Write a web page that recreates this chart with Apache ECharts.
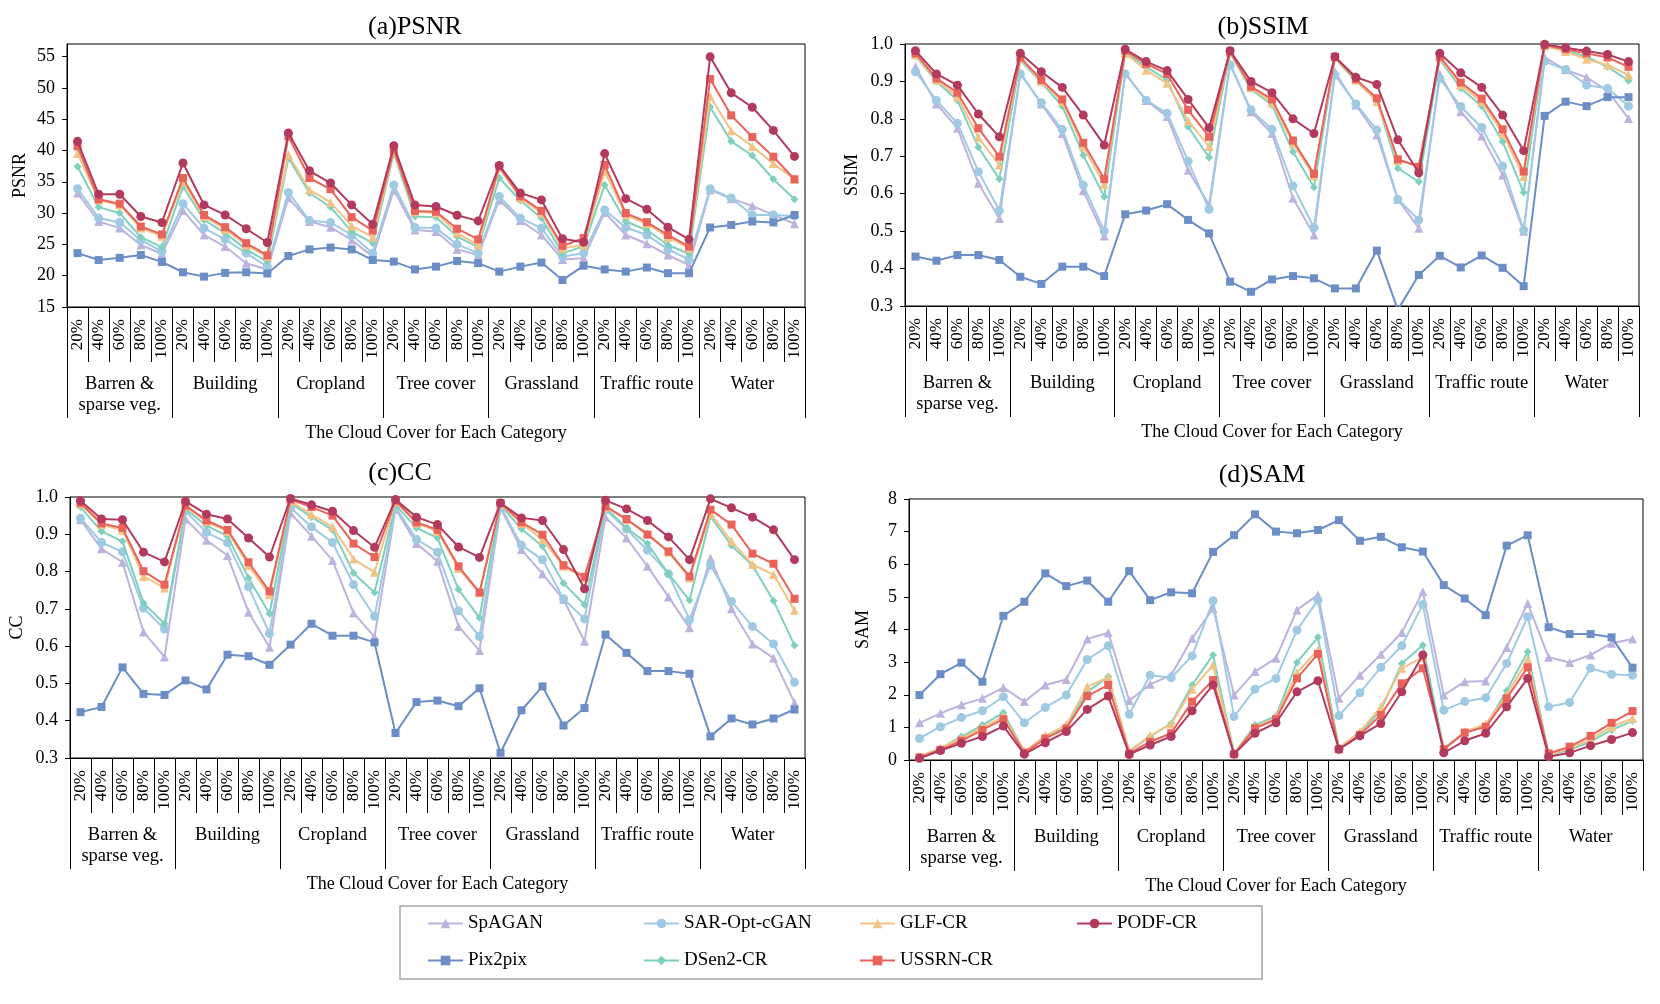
<!DOCTYPE html>
<html><head><meta charset="utf-8">
<script src="https://cdn.jsdelivr.net/npm/echarts@6/dist/echarts.min.js"></script>
<style>html,body{margin:0;padding:0;background:#fff}#c{width:1660px;height:1004px}</style>
</head><body><div id="c"></div>
<script>
// ---------- categories / tick labels ----------
const groupNames = ['Barren &\nsparse veg.', 'Building', 'Cropland', 'Tree cover', 'Grassland', 'Traffic route', 'Water'];
const coverLevels = ['20%', '40%', '60%', '80%', '100%'];
const methods = ['SpAGAN', 'SAR-Opt-cGAN', 'GLF-CR', 'PODF-CR', 'Pix2pix', 'DSen2-CR', 'USSRN-CR'];
const psnrTicks = [15, 20, 25, 30, 35, 40, 45, 50, 55];
const xAxisTitle = 'The Cloud Cover for Each Category';

// ---------- PSNR ----------
const psnrSpAGAN = [33.2,28.65,27.6,24.9,23.5, 30.4,26.5,24.65,22.0,21.0, 32.4,28.65,27.75,25.7,23.05, 33.7,27.3,27.05,24.2,23.3, 32.1,28.8,26.5,22.6,22.8, 30.1,26.5,25.1,23.3,21.7, 33.7,32.3,31.15,29.7,28.3];
const psnrSAR    = [33.9,29.2,28.5,25.7,23.9, 31.5,27.6,25.8,23.6,21.45, 33.3,28.8,28.5,26.5,23.6, 34.5,27.7,27.6,25.0,23.6, 32.65,29.2,27.6,23.05,23.6, 30.5,27.7,26.5,24.2,22.6, 33.9,32.4,29.7,29.7,29.55];
const psnrGLF    = [39.5,32.1,31.3,27.6,26.3, 35.05,29.45,27.4,24.9,23.05, 39.3,33.7,31.7,27.95,26.15, 39.85,30.2,30.0,26.8,24.9, 37.2,32.4,30.0,24.4,24.9, 36.65,29.7,28.3,26.15,24.4, 48.65,43.15,40.65,37.9,35.4];
const psnrPODF   = [41.45,33.0,33.0,29.45,28.5, 38.0,31.3,29.7,27.5,25.3, 42.8,36.75,34.8,31.3,28.2, 40.75,31.3,31.05,29.65,28.75, 37.6,33.2,32.1,25.9,25.35, 39.5,32.3,30.6,27.75,25.8, 54.95,49.2,46.9,43.2,39.05];
const psnrPix2pix= [23.6,22.5,22.85,23.3,22.2, 20.55,19.85,20.45,20.55,20.35, 23.15,24.2,24.5,24.2,22.5, 22.25,21.0,21.45,22.35,22.0, 20.65,21.45,22.1,19.3,21.6, 21.0,20.65,21.3,20.4,20.4, 27.7,28.1,28.65,28.5,29.7];
const psnrDSen2  = [37.45,30.95,30.0,26.15,24.55, 34.25,28.9,26.8,24.2,22.25, 38.8,33.2,30.95,27.05,25.2, 39.6,29.45,29.35,26.25,24.55, 35.6,32.0,29.2,23.6,24.65, 34.5,28.65,27.3,24.9,23.5, 46.95,41.45,39.2,35.4,32.2];
const psnrUSSRN  = [40.65,32.2,31.5,27.85,26.6, 35.6,29.7,27.75,25.2,23.25, 42.25,35.6,33.8,29.35,27.2, 40.1,30.35,30.2,27.5,25.8, 37.45,32.65,30.35,24.75,26.0, 37.7,30.0,28.55,26.5,24.65, 51.4,45.6,42.15,39.0,35.4];

// ---------- SSIM ----------
const ssimSpAGAN = [0.939,0.84,0.775,0.628,0.534, 0.923,0.84,0.761,0.608,0.487, 0.922,0.849,0.806,0.663,0.57, 0.948,0.819,0.761,0.588,0.49, 0.926,0.837,0.757,0.585,0.508, 0.92,0.819,0.754,0.65,0.5, 0.964,0.931,0.911,0.875,0.801];
const ssimSAR    = [0.926,0.849,0.788,0.659,0.555, 0.92,0.843,0.772,0.623,0.5, 0.92,0.85,0.815,0.687,0.558, 0.944,0.824,0.772,0.621,0.509, 0.917,0.84,0.77,0.585,0.53, 0.908,0.833,0.777,0.674,0.503, 0.953,0.932,0.89,0.882,0.834];
const ssimGLF    = [0.971,0.904,0.859,0.75,0.677, 0.962,0.9,0.846,0.726,0.625, 0.975,0.93,0.895,0.795,0.726, 0.977,0.884,0.843,0.735,0.647, 0.964,0.904,0.846,0.688,0.677, 0.964,0.89,0.846,0.761,0.646, 0.995,0.98,0.959,0.944,0.917];
const ssimPODF   = [0.982,0.92,0.89,0.813,0.752, 0.975,0.926,0.884,0.81,0.73, 0.986,0.953,0.929,0.852,0.776, 0.982,0.9,0.87,0.8,0.761, 0.966,0.911,0.892,0.744,0.656, 0.975,0.923,0.884,0.81,0.715, 0.999,0.99,0.981,0.972,0.953];
const ssimPix2pix= [0.432,0.421,0.436,0.436,0.423, 0.378,0.359,0.405,0.405,0.38, 0.545,0.555,0.572,0.53,0.494, 0.365,0.338,0.371,0.38,0.374, 0.347,0.347,0.448,0.29,0.383, 0.434,0.403,0.435,0.402,0.353, 0.808,0.846,0.834,0.858,0.858];
const ssimDSen2  = [0.968,0.9,0.85,0.724,0.639, 0.957,0.897,0.834,0.703,0.592, 0.977,0.939,0.904,0.779,0.697, 0.975,0.879,0.837,0.712,0.617, 0.962,0.901,0.85,0.668,0.632, 0.959,0.882,0.834,0.739,0.603, 0.993,0.984,0.966,0.939,0.902];
const ssimUSSRN  = [0.975,0.908,0.87,0.775,0.699, 0.964,0.904,0.852,0.736,0.639, 0.982,0.947,0.92,0.824,0.752, 0.98,0.886,0.852,0.742,0.653, 0.966,0.906,0.855,0.692,0.672, 0.966,0.897,0.854,0.772,0.659, 0.997,0.986,0.975,0.964,0.939];

// ---------- CC ----------
const ccSpAGAN = [0.939,0.861,0.825,0.638,0.571, 0.941,0.884,0.843,0.691,0.597, 0.957,0.895,0.83,0.689,0.625, 0.968,0.875,0.828,0.653,0.588, 0.971,0.859,0.794,0.725,0.613, 0.946,0.89,0.814,0.732,0.649, 0.836,0.7,0.606,0.568,0.448];
const ccSAR    = [0.943,0.878,0.853,0.702,0.646, 0.962,0.905,0.877,0.759,0.634, 0.971,0.92,0.878,0.765,0.68, 0.973,0.886,0.852,0.695,0.626, 0.973,0.871,0.832,0.727,0.673, 0.966,0.914,0.857,0.794,0.671, 0.817,0.72,0.653,0.606,0.503];
const ccGLF    = [0.982,0.926,0.911,0.787,0.756, 0.975,0.934,0.908,0.816,0.738, 0.988,0.953,0.92,0.834,0.798, 0.988,0.93,0.908,0.808,0.743, 0.982,0.929,0.886,0.814,0.783, 0.973,0.939,0.903,0.852,0.783, 0.955,0.881,0.819,0.792,0.696];
const ccPODF   = [0.99,0.941,0.939,0.852,0.826, 0.988,0.954,0.941,0.89,0.839, 0.996,0.979,0.962,0.91,0.865, 0.993,0.946,0.926,0.866,0.838, 0.984,0.944,0.937,0.859,0.754, 0.991,0.968,0.937,0.893,0.832, 0.995,0.971,0.946,0.912,0.832];
const ccPix2pix= [0.423,0.437,0.543,0.472,0.469, 0.508,0.484,0.577,0.573,0.55, 0.604,0.66,0.628,0.628,0.61, 0.367,0.45,0.454,0.439,0.487, 0.314,0.428,0.492,0.387,0.434, 0.631,0.582,0.533,0.533,0.526, 0.358,0.406,0.39,0.406,0.43];
const ccDSen2  = [0.973,0.908,0.881,0.716,0.66, 0.968,0.923,0.895,0.783,0.687, 0.984,0.946,0.912,0.796,0.744, 0.979,0.917,0.89,0.752,0.676, 0.979,0.914,0.868,0.769,0.711, 0.971,0.917,0.875,0.794,0.723, 0.948,0.87,0.816,0.722,0.602];
const ccUSSRN  = [0.984,0.929,0.917,0.801,0.765, 0.977,0.937,0.912,0.825,0.747, 0.993,0.973,0.95,0.875,0.839, 0.99,0.932,0.912,0.814,0.744, 0.984,0.932,0.899,0.817,0.786, 0.975,0.941,0.899,0.854,0.787, 0.966,0.926,0.848,0.821,0.727];

// ---------- SAM ----------
const samSpAGAN = [1.14,1.43,1.69,1.89,2.22, 1.79,2.3,2.47,3.71,3.9, 1.82,2.32,2.6,3.73,4.65, 1.99,2.71,3.12,4.6,5.06, 1.89,2.6,3.24,3.91,5.16, 1.99,2.4,2.42,3.45,4.8, 3.15,2.99,3.22,3.58,3.71];
const samSAR    = [0.66,1.02,1.3,1.51,1.94, 1.14,1.61,1.99,3.08,3.5, 1.4,2.6,2.52,3.19,4.88, 1.33,2.17,2.5,3.98,4.9, 1.36,2.06,2.84,3.5,4.77, 1.53,1.79,1.91,2.96,4.39, 1.63,1.76,2.81,2.63,2.6];
const samGLF    = [0.1,0.36,0.66,1.0,1.33, 0.26,0.74,1.07,2.25,2.53, 0.28,0.74,1.1,2.17,2.91, 0.2,1.0,1.3,2.68,3.37, 0.36,0.87,1.63,2.81,3.15, 0.33,0.87,1.1,1.99,3.08, 0.17,0.36,0.63,1.02,1.28];
const samPODF   = [0.05,0.29,0.51,0.72,1.04, 0.18,0.53,0.87,1.55,1.96, 0.17,0.46,0.72,1.51,2.3, 0.18,0.82,1.14,2.09,2.43, 0.33,0.74,1.12,2.09,3.22, 0.22,0.59,0.82,1.63,2.5, 0.1,0.22,0.44,0.63,0.84];
const samPix2pix= [1.99,2.63,2.98,2.4,4.42, 4.85,5.72,5.33,5.5,4.85, 5.79,4.9,5.14,5.11,6.38, 6.89,7.53,7.0,6.95,7.05, 7.35,6.72,6.84,6.52,6.39, 5.36,4.95,4.44,6.57,6.89, 4.07,3.86,3.86,3.76,2.83];
const samDSen2  = [0.1,0.36,0.72,1.07,1.45, 0.26,0.72,1.02,2.09,2.55, 0.26,0.72,1.12,2.3,3.22, 0.2,1.07,1.35,2.99,3.76, 0.38,0.82,1.53,2.96,3.52, 0.36,0.84,1.04,2.12,3.32, 0.15,0.31,0.56,0.92,1.2];
const samUSSRN  = [0.08,0.31,0.59,0.92,1.25, 0.22,0.66,0.97,1.96,2.3, 0.2,0.56,0.82,1.79,2.45, 0.18,0.97,1.25,2.5,3.25, 0.33,0.77,1.38,2.35,2.81, 0.33,0.84,1.02,1.89,2.84, 0.2,0.41,0.74,1.14,1.5];

// ---------- build ----------
const FONT = "'Liberation Serif','Times New Roman',serif";
const xLabels = [];
groupNames.forEach(() => coverLevels.forEach(c => xLabels.push(c)));

const styles = {
  'SpAGAN':       {color:'#bcb3de', symbol:'triangle', size:9},
  'SAR-Opt-cGAN': {color:'#9ecae3', symbol:'circle',   size:9},
  'GLF-CR':       {color:'#f1c385', symbol:'triangle', size:9},
  'PODF-CR':      {color:'#b23a5d', symbol:'circle',   size:9},
  'Pix2pix':      {color:'#6b8ec7', symbol:'rect',     size:8},
  'DSen2-CR':     {color:'#7fd0bf', symbol:'diamond',  size:8},
  'USSRN-CR':     {color:'#e9635b', symbol:'rect',     size:8}
};
const drawOrder = ['SpAGAN','SAR-Opt-cGAN','Pix2pix','DSen2-CR','GLF-CR','USSRN-CR','PODF-CR'];

const panels = [
  {title:'(a)PSNR', tx:415, ty:27, yName:'PSNR', nameGap:38, min:15, max:57, interval:5, dec:0, custom:psnrTicks,
   rect:{left:67, top:44, width:738, height:263},
   data:{'SpAGAN':psnrSpAGAN,'SAR-Opt-cGAN':psnrSAR,'GLF-CR':psnrGLF,'PODF-CR':psnrPODF,'Pix2pix':psnrPix2pix,'DSen2-CR':psnrDSen2,'USSRN-CR':psnrUSSRN}},
  {title:'(b)SSIM', tx:1263, ty:27, yName:'SSIM', nameGap:44, min:0.3, max:1.0, interval:0.1, dec:1,
   rect:{left:905, top:44, width:734, height:262},
   data:{'SpAGAN':ssimSpAGAN,'SAR-Opt-cGAN':ssimSAR,'GLF-CR':ssimGLF,'PODF-CR':ssimPODF,'Pix2pix':ssimPix2pix,'DSen2-CR':ssimDSen2,'USSRN-CR':ssimUSSRN}},
  {title:'(c)CC', tx:400, ty:473, yName:'CC', nameGap:44, min:0.3, max:1.0, interval:0.1, dec:1,
   rect:{left:70, top:497, width:735, height:261},
   data:{'SpAGAN':ccSpAGAN,'SAR-Opt-cGAN':ccSAR,'GLF-CR':ccGLF,'PODF-CR':ccPODF,'Pix2pix':ccPix2pix,'DSen2-CR':ccDSen2,'USSRN-CR':ccUSSRN}},
  {title:'(d)SAM', tx:1262, ty:475, yName:'SAM', nameGap:37, min:0, max:8, interval:1, dec:0,
   rect:{left:909, top:499, width:734, height:261},
   data:{'SpAGAN':samSpAGAN,'SAR-Opt-cGAN':samSAR,'GLF-CR':samGLF,'PODF-CR':samPODF,'Pix2pix':samPix2pix,'DSen2-CR':samDSen2,'USSRN-CR':samUSSRN}}
];

const grid = [], xAxis = [], yAxis = [], series = [], graphic = [];
panels.forEach((p, g) => {
  grid.push(Object.assign({show:true, borderColor:'#000', borderWidth:1, backgroundColor:'rgba(0,0,0,0)'}, p.rect));
  xAxis.push({
    type:'category', gridIndex:g, data:xLabels, position:'bottom', offset:0,
    axisLine:{show:true, lineStyle:{color:'#000', width:1}},
    axisTick:{show:true, interval:0, length:55, lineStyle:{color:'#000', width:1}},
    axisLabel:{interval:0, rotate:90, margin:12, fontSize:17, fontFamily:FONT, color:'#000'},
    splitLine:{show:false}
  });
  xAxis.push({
    type:'category', gridIndex:g, data:groupNames, position:'bottom', offset:0,
    axisLine:{show:false},
    axisTick:{show:true, interval:0, length:111, lineStyle:{color:'#000', width:1}},
    axisLabel:{interval:0, margin:67, fontSize:18.5, lineHeight:21, fontFamily:FONT, color:'#000'},
    name:xAxisTitle, nameLocation:'middle', nameGap:117,
    nameTextStyle:{fontSize:18, fontFamily:FONT, color:'#000', verticalAlign:'top'},
    splitLine:{show:false}
  });
  const ya = {
    type:'value', gridIndex:g, min:p.min, max:p.max, interval:p.interval,
    name:p.yName, nameLocation:'middle', nameGap:p.nameGap,
    nameTextStyle:{fontSize:18, fontFamily:FONT, color:'#000'},
    axisLine:{show:true, lineStyle:{color:'#000', width:1}},
    axisTick:{show:true, inside:false, length:5, lineStyle:{color:'#000'}},
    axisLabel:{fontSize:18, margin:12, fontFamily:FONT, color:'#000',
      formatter: v => Number(v).toFixed(p.dec)},
    splitLine:{show:false}
  };
  if (p.custom) {
    ya.axisLabel.customValues = p.custom;
    ya.axisTick.customValues = p.custom;
  }
  yAxis.push(ya);
  drawOrder.forEach((m, k) => {
    const s = styles[m];
    series.push({
      type:'line', name:m, xAxisIndex:2*g, yAxisIndex:g, data:p.data[m],
      symbol:s.symbol, symbolSize:s.size, showSymbol:true, clip:true, z:2+k,
      lineStyle:{color:s.color, width:2}, itemStyle:{color:s.color},
      emphasis:{disabled:true}, animation:false
    });
  });
  graphic.push({type:'text', x:p.tx, y:p.ty,
    style:{text:p.title, fontSize:26, fontFamily:FONT, fill:'#000', align:'center', verticalAlign:'middle'}});
});

graphic.push({type:'rect', shape:{x:400, y:906, width:862, height:73},
  style:{fill:'none', stroke:'#a6a6a6', lineWidth:1.5}, z:-1});

const legendCols = [['SpAGAN','Pix2pix'], ['SAR-Opt-cGAN','DSen2-CR'], ['GLF-CR','USSRN-CR'], ['PODF-CR']];
const legendX = [427, 643, 859, 1076];
const legend = legendCols.map((col, i) => ({
  left:legendX[i], top:914, orient:'vertical', itemGap:18, itemWidth:35, itemHeight:12, padding:0,
  selectedMode:false,
  textStyle:{fontSize:19, fontFamily:FONT, color:'#000'},
  data:col
}));

const chart = echarts.init(document.getElementById('c'), null, {renderer:'canvas'});
chart.setOption({
  backgroundColor:'#fff', animation:false,
  textStyle:{fontFamily:FONT},
  grid, xAxis, yAxis, series, legend, graphic
});
</script>
</body></html>
